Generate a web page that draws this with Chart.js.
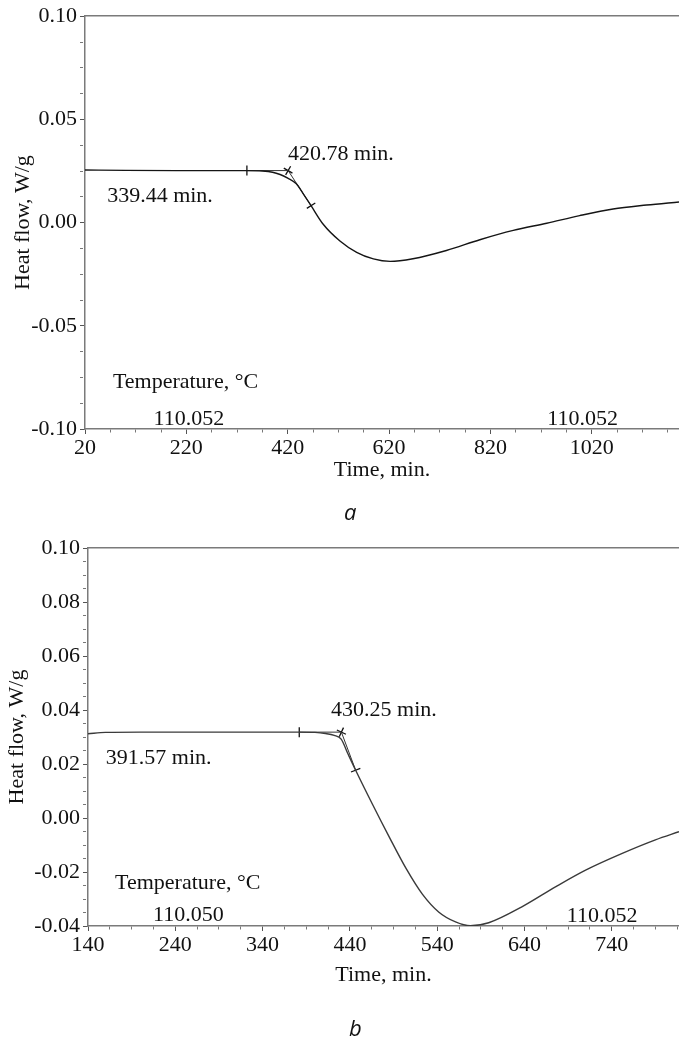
<!DOCTYPE html>
<html>
<head>
<meta charset="utf-8">
<script src="https://cdn.jsdelivr.net/npm/chart.js@4.4.1/dist/chart.umd.min.js"></script>
<style>
  body { margin: 0; background: #fff; width: 679px; height: 1052px; position: relative; overflow: hidden; }
  .panel { position: absolute; left: 0; }
  .tag { position: absolute; font: italic 22px "Open Sans", sans-serif; line-height: 22px; color: #111; }
</style>
</head>
<body>
<div class="panel" style="top:0"><canvas id="chartA" width="679" height="530"></canvas></div>
<div class="panel" style="top:530px"><canvas id="chartB" width="679" height="522"></canvas></div>
<div class="tag" style="left:344px; top:500px">a</div>
<div class="tag" style="left:349px; top:1016px">b</div>
<script>
// panel a: heat flow curve
const timeA = [20, 100, 200, 300, 339, 370, 390, 405, 420, 437, 452, 466, 490, 523, 556, 589, 622, 667, 733, 799, 865, 931, 996, 1062, 1128, 1192];
const flowA = [0.0255, 0.0253, 0.0252, 0.0252, 0.0252, 0.0250, 0.0244, 0.0233, 0.0216, 0.0188, 0.0134, 0.0082, -0.0008, -0.0089, -0.0144, -0.0176, -0.0188, -0.0175, -0.0135, -0.0083, -0.0038, -0.0003, 0.0034, 0.0066, 0.0085, 0.0100];
const baseTimeA = [339.44, 420.78];
const baseFlowA = [0.0252, 0.0252];
const tanTimeA = [420.78, 466];
const tanFlowA = [0.0252, 0.0082];
const markTimeA = [339.44, 420.78, 466];
const markFlowA = [0.0252, 0.0252, 0.0082];
const xMajorA = [20, 220, 420, 620, 820, 1020];
const yMajorA = [-0.10, -0.05, 0.00, 0.05, 0.10];

// panel b
const timeB = [140, 160, 200, 260, 320, 382, 400, 412, 422, 430, 438, 446.6, 466, 485, 504, 523, 542, 561, 578, 599, 637, 676, 710, 752, 790, 817];
const flowB = [0.0312, 0.0317, 0.0318, 0.0318, 0.0318, 0.0318, 0.0317, 0.0313, 0.0306, 0.0292, 0.0236, 0.0177, 0.0050, -0.0070, -0.0185, -0.0282, -0.0349, -0.0385, -0.0399, -0.0388, -0.0329, -0.0254, -0.0193, -0.0131, -0.0081, -0.0051];
const baseTimeB = [382, 430.25];
const baseFlowB = [0.0318, 0.0318];
const tanTimeB = [430.25, 446.6];
const tanFlowB = [0.0318, 0.0177];
const markTimeB = [382, 430.25, 446.6];
const markFlowB = [0.0318, 0.0318, 0.0177];
const xMajorB = [140, 240, 340, 440, 540, 640, 740];
const yMajorB = [-0.04, -0.02, 0.00, 0.02, 0.04, 0.06, 0.08, 0.10];

// text labels
const notesA = [
  { text: "339.44 min.", x: 168, y: 0.0130 },
  { text: "420.78 min.", x: 525, y: 0.0332 },
  { text: "Temperature, °C", x: 75, y: -0.0774, align: "left" },
  { text: "110.052", x: 225, y: -0.0952 },
  { text: "110.052", x: 1002, y: -0.0952 }
];
const notesB = [
  { text: "391.57 min.", x: 221, y: 0.0222 },
  { text: "430.25 min.", x: 479, y: 0.0400 },
  { text: "Temperature, °C", x: 171, y: -0.0241, align: "left" },
  { text: "110.050", x: 255, y: -0.0359 },
  { text: "110.052", x: 729, y: -0.0363 }
];

Chart.defaults.font.family = '"Liberation Serif", "Times New Roman", serif';
Chart.defaults.font.size = 22;
Chart.defaults.color = "#111";

const SUB = 4;
const AXIS = "#7a7a7a";

function pairs(xs, ys) {
  return xs.map((x, i) => ({ x: x, y: ys[i] }));
}

function tickList(majors, max) {
  const step = (majors[1] - majors[0]) / SUB;
  const out = [];
  for (let i = 0; majors[0] + i * step <= max + 1e-9; i++) {
    out.push(Math.round((majors[0] + i * step) * 1e6) / 1e6);
  }
  return out;
}

const notesPlugin = {
  id: "notes",
  afterDatasetsDraw(chart, args, opts) {
    const ctx = chart.ctx;
    const x = chart.scales.x, y = chart.scales.y;
    ctx.save();
    ctx.font = '22px "Liberation Serif", serif';
    ctx.fillStyle = "#111";
    ctx.textBaseline = "middle";
    (opts.items || []).forEach(n => {
      ctx.textAlign = n.align || "center";
      ctx.fillText(n.text, x.getPixelForValue(n.x), y.getPixelForValue(n.y));
    });
    ctx.restore();
  }
};

function axisGrid() {
  return {
    display: true,
    drawOnChartArea: false,
    drawTicks: true,
    tickLength: 5,
    tickWidth: 1,
    tickColor: c => (c.index % SUB === 0 ? "#555" : "#777"),
    tickBorderDash: c => (c.index % SUB === 0 ? [] : [3, 20])
  };
}

function noPad(s) {
  s.paddingLeft = 0;
  s.paddingRight = 0;
}

function makeChart(id, p) {
  const xt = tickList(p.xMajor, p.xMax);
  const yt = tickList(p.yMajor, p.yMajor[p.yMajor.length - 1]);
  return new Chart(document.getElementById(id).getContext("2d"), {
    type: "scatter",
    data: {
      datasets: [
        {
          data: pairs(p.time, p.flow),
          showLine: true,
          borderColor: p.curveColor,
          borderWidth: 1.4,
          pointRadius: 0,
          cubicInterpolationMode: "monotone"
        },
        {
          data: pairs(p.baseTime, p.baseFlow),
          showLine: true,
          borderColor: "#333",
          borderWidth: 1,
          pointRadius: 0
        },
        {
          data: pairs(p.tanTime, p.tanFlow),
          showLine: true,
          borderColor: "#333",
          borderWidth: 1,
          pointRadius: 0
        },
        {
          data: pairs(p.markTime, p.markFlow),
          showLine: false,
          pointStyle: ["line", "cross", "line"],
          rotation: p.markRot,
          pointRadius: 5,
          borderColor: "#111",
          borderWidth: 1.3
        }
      ]
    },
    options: {
      responsive: false,
      devicePixelRatio: 1,
      animation: false,
      layout: { autoPadding: false, padding: { top: p.top, left: 0, right: 0, bottom: 0 } },
      plugins: {
        legend: { display: false },
        tooltip: { enabled: false },
        notes: { items: p.notes }
      },
      scales: {
        x: {
          type: "linear",
          position: "bottom",
          min: p.xMajor[0],
          max: p.xMax,
          afterBuildTicks: s => { s.ticks = xt.map(v => ({ value: v })); },
          afterFit: s => { s.height = p.xAxisHeight; noPad(s); },
          ticks: {
            autoSkip: false,
            maxRotation: 0,
            padding: 1,
            callback: (v, i) => (i % SUB === 0 ? String(Math.round(v)) : "")
          },
          grid: axisGrid(),
          border: { display: true, color: AXIS, width: 1.5 },
          title: { display: true, text: "Time, min.", padding: { top: 0, bottom: p.xTitlePad } }
        },
        x2: {
          type: "linear",
          position: "top",
          display: true,
          min: p.xMajor[0],
          max: p.xMax,
          afterFit: s => { s.height = 0; noPad(s); },
          ticks: { display: false },
          grid: { display: false, drawTicks: false },
          border: { display: true, color: AXIS, width: 1.5 }
        },
        y: {
          type: "linear",
          position: "left",
          min: p.yMajor[0],
          max: p.yMajor[p.yMajor.length - 1],
          afterBuildTicks: s => { s.ticks = yt.map(v => ({ value: v })); },
          afterFit: s => { s.width = p.yAxisWidth; },
          ticks: {
            autoSkip: false,
            padding: 3,
            callback: (v, i) => (i % SUB === 0 ? (Math.round(v * 100) / 100 + 0).toFixed(2) : "")
          },
          grid: axisGrid(),
          border: { display: true, color: AXIS, width: 1.5 },
          title: { display: true, text: "Heat flow, W/g", padding: { top: p.yTitlePad, bottom: 0 } }
        }
      }
    },
    plugins: [notesPlugin]
  });
}

makeChart("chartA", {
  time: timeA, flow: flowA,
  baseTime: baseTimeA, baseFlow: baseFlowA,
  tanTime: tanTimeA, tanFlow: tanFlowA,
  markTime: markTimeA, markFlow: markFlowA,
  markRot: [90, 30, -32],
  xMajor: xMajorA, xMax: 1192, yMajor: yMajorA,
  notes: notesA,
  curveColor: "#151515",
  top: 14, xAxisHeight: 101, yAxisWidth: 85,
  xTitlePad: 47, yTitlePad: 10
});

makeChart("chartB", {
  time: timeB, flow: flowB,
  baseTime: baseTimeB, baseFlow: baseFlowB,
  tanTime: tanTimeB, tanFlow: tanFlowB,
  markTime: markTimeB, markFlow: markFlowB,
  markRot: [90, 25, -21],
  xMajor: xMajorB, xMax: 817, yMajor: yMajorB,
  notes: notesB,
  curveColor: "#3a3a3a",
  top: 18, xAxisHeight: 126, yAxisWidth: 88,
  xTitlePad: 64, yTitlePad: 4
});
</script>
</body>
</html>
